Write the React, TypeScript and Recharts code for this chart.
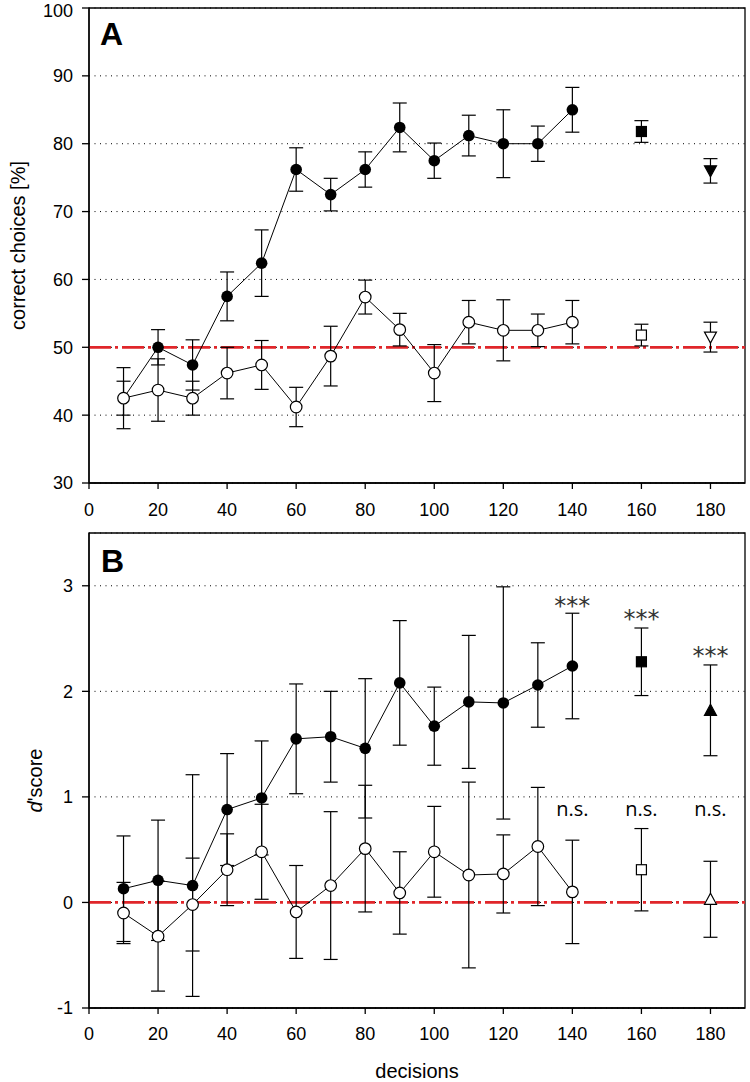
import React from 'react';
import {
  ComposedChart,
  Line,
  Scatter,
  XAxis,
  YAxis,
  CartesianGrid,
  ErrorBar,
  ReferenceLine,
  ReferenceArea,
  ReferenceDot,
} from 'recharts';

// decisions (x) for the connected series
const decisions = [10, 20, 30, 40, 50, 60, 70, 80, 90, 100, 110, 120, 130, 140];
const xTicks = [0, 20, 40, 60, 80, 100, 120, 140, 160, 180];

// panel A: correct choices [%]
const aFilled = [42.5, 50, 47.4, 57.5, 62.4, 76.2, 72.5, 76.2, 82.4, 77.5, 81.2, 80, 80, 85];
const aFilledErr = [4.5, 2.6, 3.7, 3.6, 4.9, 3.2, 2.4, 2.6, 3.6, 2.6, 3, 5, 2.6, 3.3];
const aOpen = [42.5, 43.7, 42.5, 46.2, 47.4, 41.2, 48.7, 57.4, 52.6, 46.2, 53.7, 52.5, 52.5, 53.7];
const aOpenErr = [2.5, 4.6, 2.5, 3.8, 3.6, 2.9, 4.4, 2.5, 2.4, 4.2, 3.2, 4.5, 2.4, 3.2];
const aTicks = [30, 40, 50, 60, 70, 80, 90, 100];

// panel B: d' score
const bFilled = [0.13, 0.21, 0.16, 0.88, 0.99, 1.55, 1.57, 1.46, 2.08, 1.67, 1.9, 1.89, 2.06, 2.24];
const bFilledErr = [0.5, 0.57, 1.05, 0.53, 0.54, 0.52, 0.43, 0.66, 0.59, 0.37, 0.63, 1.1, 0.4, 0.5];
const bOpen = [-0.1, -0.32, -0.02, 0.31, 0.48, -0.09, 0.16, 0.51, 0.09, 0.48, 0.26, 0.27, 0.53, 0.1];
const bOpenErr = [0.29, 0.52, 0.44, 0.34, 0.45, 0.44, 0.7, 0.6, 0.39, 0.43, 0.88, 0.37, 0.56, 0.49];
const bTicks = [-1, 0, 1, 2, 3];

// separate end points (square at 160, triangle at 180)
const extraX = [160, 180];
const aExtraFilled = [81.8, 76];
const aExtraFilledErr = [1.6, 1.8];
const aExtraOpen = [51.8, 51.5];
const aExtraOpenErr = [1.6, 2.2];
const bExtraFilled = [2.28, 1.82];
const bExtraFilledErr = [0.32, 0.43];
const bExtraOpen = [0.31, 0.03];
const bExtraOpenErr = [0.39, 0.36];

// significance marks in panel B
const markX = [140, 160, 180];
const starY = [2.81, 2.69, 2.34];
const nsY = [0.89, 0.89, 0.89];

const rows = (xs: number[], vals: number[], errs: number[]) =>
  xs.map((x, i) => ({ x, v: vals[i], e: errs[i] }));

const FONT = '"Liberation Sans", Arial, sans-serif';
const tickStyle = { fill: '#000', fontSize: 18, fontFamily: FONT };
const RED = '#e0262a';
const RED_DASH = '22 4 3 4';

const filledDot = (p: any) => (
  <circle key={`f${p.index}`} cx={p.cx} cy={p.cy} r={5.8} fill="#000" />
);
const openDot = (p: any) => (
  <circle key={`o${p.index}`} cx={p.cx} cy={p.cy} r={5.8} fill="#fff" stroke="#000" strokeWidth={1.2} />
);
const squareShape = (fill: string) => (p: any) => (
  <rect x={p.cx - 5} y={p.cy - 5} width={10} height={10} fill={fill} stroke="#000" strokeWidth={1.2} />
);
const triShape = (fill: string, down: boolean) => (p: any) => {
  const s = down ? 1 : -1;
  return (
    <path
      d={`M${p.cx - 6},${p.cy - 5 * s}L${p.cx + 6},${p.cy - 5 * s}L${p.cx},${p.cy + 6 * s}Z`}
      fill={fill}
      stroke="#000"
      strokeWidth={1.2}
    />
  );
};

const DLabel = (props: any) => {
  const vb = props.viewBox;
  const cx = vb.x + 35;
  const cy = vb.y + vb.height / 2 + 10;
  return (
    <text
      x={cx}
      y={cy}
      dy="0.355em"
      transform={`rotate(-90, ${cx}, ${cy})`}
      textAnchor="middle"
      fontSize={20}
      fontFamily={FONT}
      fill="#000"
    >
      <tspan fontStyle="italic">d</tspan>
      <tspan>'score</tspan>
    </text>
  );
};

export default function App() {
  const aF = rows(decisions, aFilled, aFilledErr);
  const aO = rows(decisions, aOpen, aOpenErr);
  const bF = rows(decisions, bFilled, bFilledErr);
  const bO = rows(decisions, bOpen, bOpenErr);

  const renderExtras = (vals: number[], errs: number[], fill: string, down: boolean, id: string) =>
    extraX.map((x, i) => (
      <Scatter
        key={`${id}${i}`}
        data={[{ x, v: vals[i], e: errs[i] }]}
        dataKey="v"
        isAnimationActive={false}
        shape={i === 0 ? squareShape(fill) : triShape(fill, down)}
      >
        <ErrorBar dataKey="e" direction="y" width={7} stroke="#000" strokeWidth={1.2} />
      </Scatter>
    ));

  const errBar = <ErrorBar dataKey="e" direction="y" width={7} stroke="#000" strokeWidth={1.2} />;

  return (
    <div style={{ position: 'absolute', left: 0, top: 0, width: 750, height: 1082, background: '#fff', fontFamily: FONT }}>
      <div style={{ position: 'absolute', left: 0, top: 0 }}>
        <ComposedChart width={750} height={520} margin={{ top: 8, right: 5, bottom: 0, left: 0 }}>
          <CartesianGrid vertical={false} stroke="#000" strokeDasharray="1 4.5" />
          <XAxis
            type="number"
            dataKey="x"
            domain={[0, 190]}
            ticks={xTicks}
            tickSize={6}
            tickMargin={14}
            height={37}
            tick={tickStyle}
            stroke="#000"
            strokeWidth={1.3}
          />
          <YAxis
            type="number"
            domain={[30, 100]}
            ticks={aTicks}
            tickSize={7}
            tickMargin={9}
            width={89}
            tick={tickStyle}
            stroke="#000"
            strokeWidth={1.3}
            label={{
              value: 'correct choices [%]',
              angle: -90,
              position: 'insideLeft',
              offset: 18,
              style: { textAnchor: 'middle', fontSize: 20, fill: '#000', fontFamily: FONT },
            }}
          />
          <ReferenceArea x1={0} x2={190} y1={30} y2={100} fill="none" stroke="#000" strokeWidth={1.3} />
          <ReferenceLine y={50} stroke={RED} strokeWidth={2.8} strokeDasharray={RED_DASH} />
          <Line data={aF} dataKey="v" stroke="#000" strokeWidth={1} dot={filledDot} isAnimationActive={false}>
            {errBar}
          </Line>
          <Line data={aO} dataKey="v" stroke="#000" strokeWidth={1} dot={openDot} isAnimationActive={false}>
            {errBar}
          </Line>
          {renderExtras(aExtraFilled, aExtraFilledErr, '#000', true, 'af')}
          {renderExtras(aExtraOpen, aExtraOpenErr, '#fff', true, 'ao')}
        </ComposedChart>
      </div>

      <div style={{ position: 'absolute', left: 0, top: 525 }}>
        <ComposedChart width={750} height={557} margin={{ top: 8, right: 5, bottom: 0, left: 0 }}>
          <CartesianGrid vertical={false} stroke="#000" strokeDasharray="1 4.5" />
          <XAxis
            type="number"
            dataKey="x"
            domain={[0, 190]}
            ticks={xTicks}
            tickSize={6}
            tickMargin={13}
            height={74}
            tick={tickStyle}
            stroke="#000"
            strokeWidth={1.3}
            label={{ value: 'decisions', position: 'insideBottom', offset: 4, fontSize: 20, fill: '#000', fontFamily: FONT }}
          />
          <YAxis
            type="number"
            domain={[-1, 3.5]}
            ticks={bTicks}
            tickSize={7}
            tickMargin={9}
            width={89}
            tick={tickStyle}
            stroke="#000"
            strokeWidth={1.3}
            label={{ content: DLabel }}
          />
          <ReferenceArea x1={0} x2={190} y1={-1} y2={3.5} fill="none" stroke="#000" strokeWidth={1.3} />
          <ReferenceLine y={0} stroke={RED} strokeWidth={2.8} strokeDasharray={RED_DASH} />
          <Line data={bF} dataKey="v" stroke="#000" strokeWidth={1} dot={filledDot} isAnimationActive={false}>
            {errBar}
          </Line>
          <Line data={bO} dataKey="v" stroke="#000" strokeWidth={1} dot={openDot} isAnimationActive={false}>
            {errBar}
          </Line>
          {renderExtras(bExtraFilled, bExtraFilledErr, '#000', false, 'bf')}
          {renderExtras(bExtraOpen, bExtraOpenErr, '#fff', false, 'bo')}
          {markX.map((x, i) => (
            <ReferenceDot
              key={`s${i}`}
              x={x}
              y={starY[i]}
              r={0}
              fill="none"
              stroke="none"
              label={{ value: '***', position: 'center', fontSize: 24, fill: '#333', fontFamily: '"DejaVu Sans", sans-serif' }}
            />
          ))}
          {markX.map((x, i) => (
            <ReferenceDot
              key={`n${i}`}
              x={x}
              y={nsY[i]}
              r={0}
              fill="none"
              stroke="none"
              label={{ value: 'n.s.', position: 'center', fontSize: 20, fill: '#000', fontFamily: '"Open Sans", sans-serif' }}
            />
          ))}
        </ComposedChart>
      </div>

      <div style={{ position: 'absolute', left: 100, top: 18, fontSize: 32, lineHeight: 1, fontWeight: 'bold' }}>A</div>
      <div style={{ position: 'absolute', left: 101, top: 545, fontSize: 32, lineHeight: 1, fontWeight: 'bold' }}>B</div>
    </div>
  );
}
